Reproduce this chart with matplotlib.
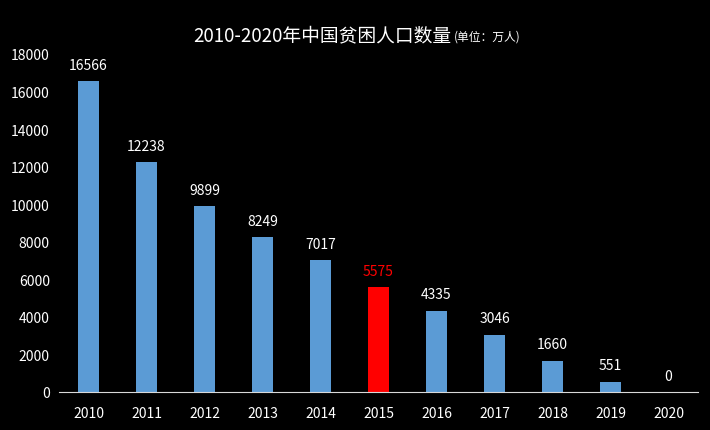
import numpy as np
import matplotlib
matplotlib.use("Agg")
import matplotlib.pyplot as plt

plt.rcParams['font.family'] = ['Noto Sans CJK SC', 'DejaVu Sans']

years = ['2010', '2011', '2012', '2013', '2014', '2015',
         '2016', '2017', '2018', '2019', '2020']
poor = [16566, 12238, 9899, 8249, 7017, 5575, 4335, 3046, 1660, 551, 0]
highlight = '2015'

blue = '#5b9bd5'
red = '#ff0000'

fig = plt.figure(figsize=(7.1, 4.31), dpi=100, facecolor='black')
ax = fig.add_axes([0.0838, 0.0882, 0.8986, 0.7842], facecolor='black')

x = np.arange(len(years))
colors = [red if y == highlight else blue for y in years]
bars = ax.bar(x, poor, width=0.37, color=colors)

for xi, v, y in zip(x, poor, years):
    ax.text(xi, v + 500, str(v), ha='center', va='bottom', fontsize=10,
            color=red if y == highlight else 'white')

ax.set_xlim(-0.5, len(years) - 0.5)
ax.set_ylim(0, 18000)
ax.set_yticks(np.arange(0, 18001, 2000))
ax.set_xticks(x)
ax.set_xticklabels(years)
ax.tick_params(axis='both', colors='white', labelsize=10, length=0)
ax.tick_params(axis='y', pad=7)
ax.tick_params(axis='x', pad=10)

for s in ['top', 'right', 'left']:
    ax.spines[s].set_visible(False)
ax.spines['bottom'].set_color('#d9d9d9')
ax.spines['bottom'].set_linewidth(0.8)

fig.text(0.635, 0.918, '2010-2020年中国贫困人口数量', ha='right', va='center',
         fontsize=13.5, color='white')
fig.text(0.639, 0.915, '(单位：万人)', ha='left', va='center',
         fontsize=8.5, color='white')

fig.savefig('out.png', dpi=100, facecolor='black')
